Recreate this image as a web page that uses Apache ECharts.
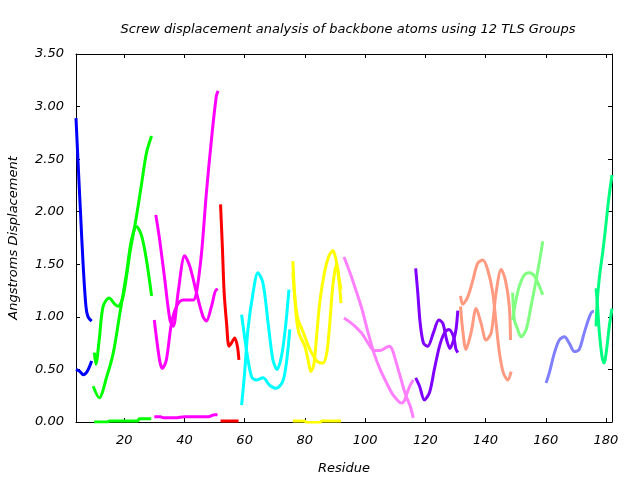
<!DOCTYPE html>
<html>
<head>
<meta charset="utf-8">
<script src="https://cdn.jsdelivr.net/npm/echarts@6/dist/echarts.min.js"></script>
<style>html,body{margin:0;padding:0;background:#fff}#c{width:640px;height:480px}</style>
</head>
<body>
<div id="c"></div>
<script>
var xTicks = [20, 40, 60, 80, 100, 120, 140, 160, 180];
var yTicks = [0, 0.5, 1, 1.5, 2, 2.5, 3, 3.5];

// Group 1 (blue)
var g1a = [[4,2.89],[4.75,2.43],[5.5,1.99],[6.4,1.48],[7.3,1.10],[8,1.00],[9.2,0.96]];
var g1b = [[4,0.50],[5.3,0.48],[6.4,0.45],[7.7,0.48],[9.2,0.58]];
// Group 2 (green)
var g2a = [[10.1,0.66],[10.6,0.55],[11.7,0.78],[13,1.10],[15,1.18],[16.9,1.12],[18,1.10],[19.7,1.20],[21.9,1.61],[24.1,1.96],[25.8,2.27],[27.4,2.56],[29.1,2.72]];
var g2b = [[9.7,0.34],[11.7,0.23],[14.2,0.43],[16.4,0.66],[18.6,1.04],[20.8,1.42],[22.4,1.73],[24.1,1.86],[25.8,1.77],[27.4,1.54],[29.1,1.20]];
var g2c = [[10,0.0],[14.5,0.0],[15,0.01],[24.5,0.01],[25,0.03],[29,0.03]];
// Group 3 (magenta)
var g3a = [[30.5,1.97],[31.8,1.73],[33.5,1.35],[35.2,0.97],[36.3,0.91],[37.9,1.23],[40.1,1.58],[41.8,1.48],[44,1.23],[46.2,1.00],[47.3,0.96],[49,1.10],[50.6,1.26],[51,1.25]];
var g3b = [[30,0.97],[31.8,0.58],[32.7,0.51],[34,0.59],[35.7,0.94],[37.4,1.10],[39.6,1.16],[42.9,1.16],[44,1.23],[45.7,1.61],[47.3,2.18],[49,2.69],[50.6,3.10],[51.2,3.15]];
var g3c = [[30,0.05],[32,0.05],[33,0.04],[37,0.04],[40,0.05],[42,0.05],[48,0.05],[50,0.07],[51,0.07]];
// Group 4 (red)
var g4a = [[52,2.07],[52.6,1.67],[53.2,1.23],[54,0.94],[54.8,0.72],[55.6,0.75],[56.7,0.80],[57.6,0.72],[58.1,0.59]];
var g4b = [[52,0.01],[58,0.01]];
// Group 5 (cyan)
var g5a = [[59,0.16],[60,0.47],[61.1,0.88],[62.8,1.23],[64.4,1.42],[66.1,1.32],[67.8,0.94],[69.4,0.59],[70.8,0.50],[72.2,0.62],[73.6,0.91],[74.7,1.26]];
var g5b = [[59,1.02],[60.6,0.69],[62.3,0.43],[63.9,0.40],[66.1,0.42],[68.3,0.35],[70.5,0.32],[72.7,0.39],[74,0.59],[75,0.88]];
// Group 6 (yellow)
var g6a = [[76,1.53],[77,1.05],[78,0.85],[80,0.72],[81,0.60],[82,0.48],[83,0.55],[84,0.85],[85,1.15],[86.5,1.42],[88,1.58],[89.3,1.63],[90.3,1.55],[91.3,1.38],[92,1.26]];
var g6b = [[76,1.42],[77.5,1.00],[79.5,0.85],[81.5,0.70],[84,0.58],[86,0.56],[87.3,0.66],[88.3,0.95],[89.3,1.30],[90.5,1.50],[91.5,1.30],[92,1.13]];
var g6c = [[76,0.01],[80,0.01],[80.5,-0.005],[85,-0.005],[85.5,0.01],[92,0.01]];
// Group 7 (pink)
var g7a = [[93,1.57],[95,1.42],[97,1.25],[99,1.07],[101,0.85],[103,0.65],[105,0.50],[107,0.38],[109,0.27],[111,0.20],[112,0.18],[113,0.20],[114,0.28],[115,0.35],[116,0.40]];
var g7b = [[93,0.99],[95,0.95],[97,0.90],[99,0.84],[101,0.75],[103,0.68],[105,0.68],[107,0.71],[108,0.72],[109,0.69],[110,0.60],[111,0.50],[112,0.40],[113,0.30],[114,0.22],[115,0.15],[116,0.04]];
// Group 8 (purple)
var g8a = [[116.8,1.46],[117.5,1.23],[118.3,0.94],[119.4,0.75],[120.8,0.72],[122.7,0.85],[124.5,0.97],[125.8,0.94],[127.1,0.78],[128.2,0.70],[129.4,0.78],[130.2,0.88],[130.8,1.06]];
var g8b = [[116.8,0.42],[118.1,0.34],[119.7,0.21],[121.4,0.28],[123,0.50],[124.7,0.72],[126.4,0.85],[127.8,0.88],[129.4,0.81],[130.2,0.69],[130.8,0.66]];
// Group 9 (salmon)
var g9a = [[131.7,1.20],[132.4,1.12],[134.1,1.19],[135.8,1.35],[137.4,1.51],[139.1,1.54],[140.7,1.45],[142.4,1.23],[143.5,0.94],[144.6,0.66],[145.9,0.47],[147.4,0.40],[148.5,0.48]];
var g9b = [[131.7,1.10],[132.4,0.88],[133.5,0.69],[135.2,0.85],[136.9,1.08],[138.5,0.94],[140.2,0.78],[141.9,0.85],[143.5,1.23],[145.2,1.45],[146.6,1.35],[147.9,1.10],[148.3,0.78]];
// Group 10 (light green)
var g10a = [[149,1.23],[149.6,0.97],[150.7,0.88],[151.8,0.81],[153.5,0.88],[155.1,1.10],[156.8,1.35],[158.4,1.61],[159,1.72]];
var g10b = [[149,0.97],[149.9,1.13],[151.2,1.29],[152.9,1.40],[154.6,1.42],[156.2,1.39],[157.9,1.29],[159,1.21]];
// Group 11 (periwinkle)
var g11a = [[160.1,0.37],[161.2,0.47],[162.9,0.66],[164.5,0.78],[166.2,0.81],[167.8,0.75],[169.5,0.67],[171.1,0.69],[172.8,0.85],[174.5,1.00],[175.6,1.05],[176,1.05]];
// Group 12 (spring green)
var g12a = [[176.7,1.27],[177.2,1.10],[177.8,0.85],[178.7,0.62],[179.4,0.56],[180.2,0.69],[181.1,0.91],[182,1.08]];
var g12b = [[176.7,0.91],[177.2,1.19],[178,1.42],[178.9,1.61],[179.8,1.83],[180.9,2.12],[182,2.35]];

var curves = [
  [g1a,'#0000ff'],[g1b,'#0000ff'],
  [g2a,'#00ff00'],[g2b,'#00ff00'],[g2c,'#00ff00'],
  [g3a,'#ff00ff'],[g3b,'#ff00ff'],[g3c,'#ff00ff'],
  [g4a,'#ff0000'],[g4b,'#ff0000'],
  [g5a,'#00ffff'],[g5b,'#00ffff'],
  [g6a,'#ffff00'],[g6b,'#ffff00'],[g6c,'#ffff00'],
  [g7a,'#ff80ff'],[g7b,'#ff80ff'],
  [g8a,'#8000ff'],[g8b,'#8000ff'],
  [g9a,'#ff9980'],[g9b,'#ff9980'],
  [g10a,'#80ff80'],[g10b,'#80ff80'],
  [g11a,'#8080ff'],
  [g12a,'#00ff80'],[g12b,'#00ff80']
];

var FONT = 'DejaVu Sans';
var labelStyle = {fontFamily: FONT, fontStyle: 'italic', fontSize: 13, color: '#000'};

var series = curves.map(function (c) {
  return {
    type: 'line', data: c[0], showSymbol: false, smooth: 0.3, clip: true,
    lineStyle: {color: c[1], width: 3}, itemStyle: {color: c[1]}, silent: true, animation: false,
    xAxisIndex: 0, yAxisIndex: 0
  };
});

var chart = echarts.init(document.getElementById('c'), null, {renderer: 'canvas'});
chart.setOption({
  animation: false,
  backgroundColor: '#fff',
  title: {
    text: 'Screw displacement analysis of backbone atoms using 12 TLS Groups',
    left: 343, top: 18, textAlign: 'center',
    textStyle: {fontFamily: FONT, fontStyle: 'italic', fontWeight: 'normal', fontSize: 13, color: '#000'}
  },
  grid: {left: 76, right: 28, top: 54, bottom: 58, containLabel: false, outerBoundsMode: 'none'},
  xAxis: [{
    type: 'value', min: 4, max: 182, position: 'bottom',
    name: 'Residue', nameLocation: 'middle', nameGap: 40,
    nameTextStyle: labelStyle,
    axisLine: {show: true, onZero: false, lineStyle: {color: '#000', width: 1}},
    axisTick: {show: true, inside: true, length: 4, customValues: xTicks, lineStyle: {color: '#000'}},
    axisLabel: {show: true, customValues: xTicks, margin: 12, fontFamily: FONT, fontStyle: 'italic', fontSize: 13, color: '#000'},
    splitLine: {show: false}
  }, {
    type: 'value', min: 4, max: 182, position: 'top',
    axisLine: {show: true, onZero: false, lineStyle: {color: '#000', width: 1}},
    axisTick: {show: true, inside: true, length: 4, customValues: xTicks, lineStyle: {color: '#000'}},
    axisLabel: {show: false},
    splitLine: {show: false}
  }],
  yAxis: [{
    type: 'value', min: 0, max: 3.5, interval: 0.5, position: 'left',
    name: 'Angstroms Displacement', nameLocation: 'middle', nameGap: 56, nameRotate: 90,
    nameTextStyle: labelStyle,
    axisLine: {show: true, onZero: false, lineStyle: {color: '#000', width: 1}},
    axisTick: {show: true, inside: true, length: 4, lineStyle: {color: '#000'}},
    axisLabel: {show: true, margin: 12, fontFamily: FONT, fontStyle: 'italic', fontSize: 13, color: '#000',
      formatter: function (v) { return v.toFixed(2); }},
    splitLine: {show: false}
  }, {
    type: 'value', min: 0, max: 3.5, interval: 0.5, position: 'right',
    axisLine: {show: true, onZero: false, lineStyle: {color: '#000', width: 1}},
    axisTick: {show: true, inside: true, length: 4, lineStyle: {color: '#000'}},
    axisLabel: {show: false},
    splitLine: {show: false}
  }],
  series: series
});
</script>
</body>
</html>
